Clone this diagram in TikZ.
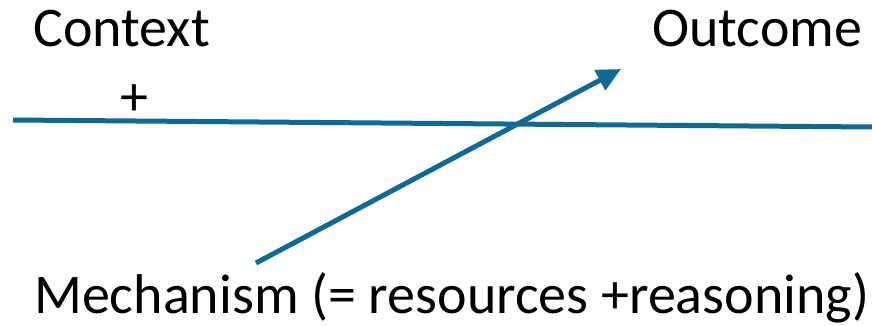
\documentclass[tikz,border=0pt]{standalone}
\usepackage{fontspec}
\setmainfont{Carlito}
\usetikzlibrary{arrows.meta, positioning}
\definecolor{teal}{RGB}{14,106,146}

\begin{document}
\begin{tikzpicture}[
    x=1pt, y=-1pt,
    font=\fontsize{56}{62}\selectfont,
    >={Triangle[length=24pt, width=22pt]},
    label/.style={
        inner sep=0pt,
        anchor=base west
    },
    link/.style={
        draw=teal,
        line width=5pt
    }
]
\useasboundingbox (0,0) rectangle (872,326);

% Text labels
\node[label] (context) at (33,47) {Context};
\node[label] (outcome) at (652,47) {Outcome};
\node[label] (plus) at (120,116) {+};
\node[label] (mechanism) at (34,313) {Mechanism (= resources +reasoning)};

% Line and arrow
\coordinate (lstart) at (13,120);
\coordinate (lend) at (872,127);
\coordinate (astart) at (256,263);
\coordinate (aend) at (621,69);

\draw[link] (lstart) -- (lend);
\draw[link, ->] (astart) -- (aend);

\end{tikzpicture}
\end{document}
